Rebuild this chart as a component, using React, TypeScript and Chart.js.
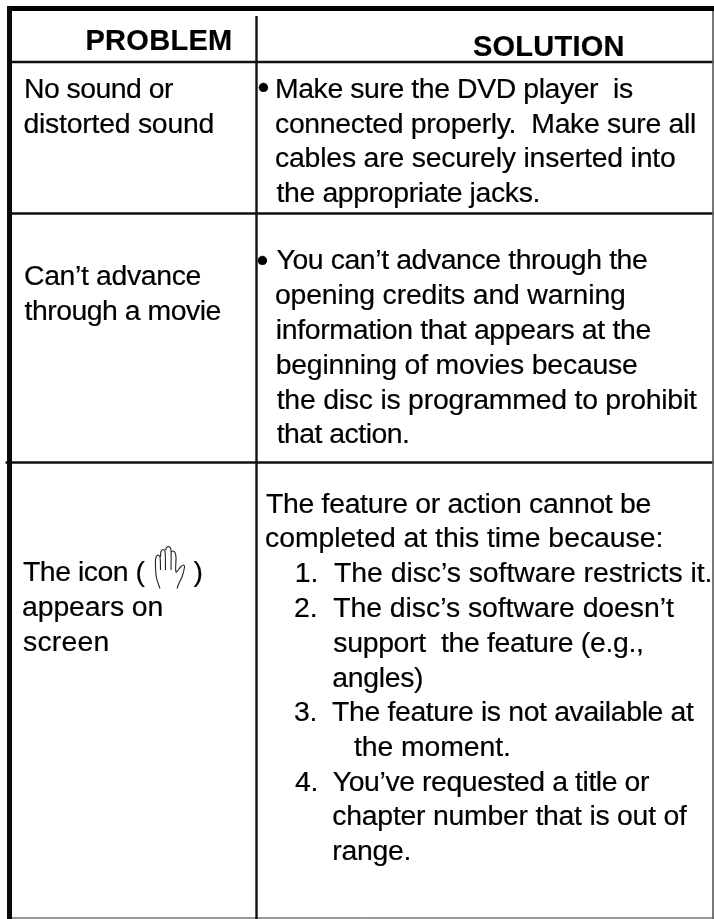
import React, { useEffect, useRef } from "react";
import { Chart, registerables } from "chart.js";

Chart.register(...registerables);

const WIDTH = 714;
const HEIGHT = 919;

const headerLabels = ["PROBLEM", "SOLUTION"];
const headerStart = [86.5, 473];
const headerEnd = [231, 622.5];
const headerY = [50, 56];

const problemLines = [
  "No sound or",
  "distorted sound",
  "Can’t advance",
  "through a movie",
  "The icon (",
  ")",
  "appears on",
  "screen",
];
const problemStart = [26, 24.5, 25, 24.5, 23, 193.5, 23, 23];
const problemEnd = [173, 212.5, 200.5, 220.5, 145.5, 200.5, 161.5, 107.5];
const problemY = [98, 133, 285, 319.5, 580.5, 580.5, 616, 651];

const bulletLabels = ["•", "•"];
const bulletStart = [258.5, 257.5];
const bulletEnd = [267.5, 266.5];
const bulletY = [99, 272];

const solutionLines = [
  "Make sure the DVD player  is",
  "connected properly.  Make sure all",
  "cables are securely inserted into",
  "the appropriate jacks.",
  "You can’t advance through the",
  "opening credits and warning",
  "information that appears at the",
  "beginning of movies because",
  "the disc is programmed to prohibit",
  "that action.",
  "The feature or action cannot be",
  "completed at this time because:",
  "1.  The disc’s software restricts it.",
  "2.  The disc’s software doesn’t",
  "support  the feature (e.g.,",
  "angles)",
  "3.  The feature is not available at",
  "the moment.",
  "4.  You’ve requested a title or",
  "chapter number that is out of",
  "range.",
];
const solutionStart = [277, 276, 276, 276.5, 276.5, 276, 276.7, 276.7, 276.7, 276.7, 266, 266, 296.7, 295, 333.3, 333.3, 295, 354, 295, 333.3, 333.3];
const solutionEnd = [633, 695, 675, 538.5, 647, 624, 650.5, 637, 697, 408, 650.5, 661.5, 710.5, 674, 642, 422, 694, 509, 649, 687, 409.5];
const solutionY = [98, 133, 167, 202, 269, 304, 339, 374, 408.5, 443, 512.5, 547, 582, 617, 652, 686.5, 721, 756, 790.5, 825, 859.5];

const ruleXs = [
  [9.5, 9.5],
  [256.5, 256.5],
  [713, 713],
  [7, 714],
  [11, 714],
  [11, 714],
  [5.5, 714],
  [11, 714],
];
const ruleYs = [
  [6, 919],
  [16, 919],
  [11, 919],
  [8.5, 8.5],
  [62, 62],
  [213.5, 213.5],
  [462.5, 462.5],
  [918, 918],
];
const ruleWeights = [5, 2.4, 1, 5, 2.4, 2.4, 2.4, 1];
const ruleColors = ["#0a0a0a", "#111", "#666", "#000", "#111", "#111", "#111", "#333"];

const handXs = [
  [160, 156.5, 155.5, 155.8, 158, 160, 160.5],
  [160.5, 161, 163, 165, 165.5],
  [165.5, 167, 169.5, 171, 171],
  [171, 173, 175, 176, 176, 181, 183.5, 184.5, 182, 179, 177],
];
const handYs = [
  [588.5, 578, 567, 558, 555, 557, 570],
  [557, 551.5, 549.5, 551, 570],
  [550, 547, 547, 550, 570],
  [552, 551, 552.5, 557, 572, 566.5, 565, 567, 577, 583, 588.5],
];

function textDataset(labels: string[], xs: number[], ends: number[], ys: number[], font: string) {
  return {
    type: "scatter" as const,
    label: "text",
    data: labels.map((_, i) => ({ x: xs[i], y: ys[i] })),
    textLabels: labels,
    textEnds: ends,
    textFont: font,
    pointRadius: 0,
    showLine: false,
  };
}

const textPlugin = {
  id: "tableText",
  afterDatasetsDraw(chart: any) {
    const ctx = chart.ctx;
    const xScale = chart.scales.x;
    chart.data.datasets.forEach((ds: any, i: number) => {
      if (!ds.textLabels) return;
      const meta = chart.getDatasetMeta(i);
      ctx.save();
      ctx.font = ds.textFont;
      ctx.fillStyle = "#000";
      ctx.strokeStyle = "#000";
      ctx.lineWidth = 0.2;
      ctx.textAlign = "left";
      ctx.textBaseline = "alphabetic";
      ds.textLabels.forEach((t: string, j: number) => {
        const p = meta.data[j];
        ctx.letterSpacing = "0px";
        const m = ctx.measureText(t);
        const inkWidth = m.actualBoundingBoxLeft + m.actualBoundingBoxRight;
        const target = xScale.getPixelForValue(ds.textEnds[j]) - p.x;
        const spacing = t.length > 1 ? (target - inkWidth) / (t.length - 1) : 0;
        ctx.letterSpacing = `${spacing}px`;
        const x = p.x + m.actualBoundingBoxLeft;
        ctx.fillText(t, x, p.y);
        ctx.strokeText(t, x, p.y);
      });
      ctx.restore();
    });
  },
};

export default function App() {
  const ref = useRef<HTMLCanvasElement>(null);
  useEffect(() => {
    document.body.style.margin = "0";
    document.body.style.background = "#fff";
    const rules = ruleXs.map((xs, i) => ({
      type: "line" as const,
      label: "rule",
      data: xs.map((x, j) => ({ x, y: ruleYs[i][j] })),
      borderColor: ruleColors[i],
      borderWidth: ruleWeights[i],
      borderCapStyle: "butt",
      pointRadius: 0,
    }));
    const hand = handXs.map((xs, i) => ({
      type: "line" as const,
      label: "hand",
      data: xs.map((x, j) => ({ x, y: handYs[i][j] })),
      borderColor: "#222",
      borderWidth: 1.1,
      tension: 0.3,
      pointRadius: 0,
    }));
    const chart = new Chart(ref.current!, {
      type: "scatter",
      data: {
        datasets: [
          ...rules,
          ...hand,
          textDataset(headerLabels, headerStart, headerEnd, headerY, "bold 29px 'Liberation Sans'"),
          textDataset(problemLines, problemStart, problemEnd, problemY, "28.4px 'Liberation Sans'"),
          textDataset(bulletLabels, bulletStart, bulletEnd, bulletY, "34px 'Liberation Sans'"),
          textDataset(solutionLines, solutionStart, solutionEnd, solutionY, "28.4px 'Liberation Sans'"),
        ] as any,
      },
      options: {
        animation: false,
        responsive: false,
        layout: { padding: 0 },
        plugins: { legend: { display: false }, tooltip: { enabled: false }, title: { display: false } },
        scales: {
          x: { type: "linear", min: 0, max: WIDTH, display: false },
          y: { type: "linear", min: 0, max: HEIGHT, reverse: true, display: false },
        },
      },
      plugins: [textPlugin],
    });
    return () => chart.destroy();
  }, []);
  return <canvas ref={ref} width={WIDTH} height={HEIGHT} style={{ display: "block" }} />;
}
